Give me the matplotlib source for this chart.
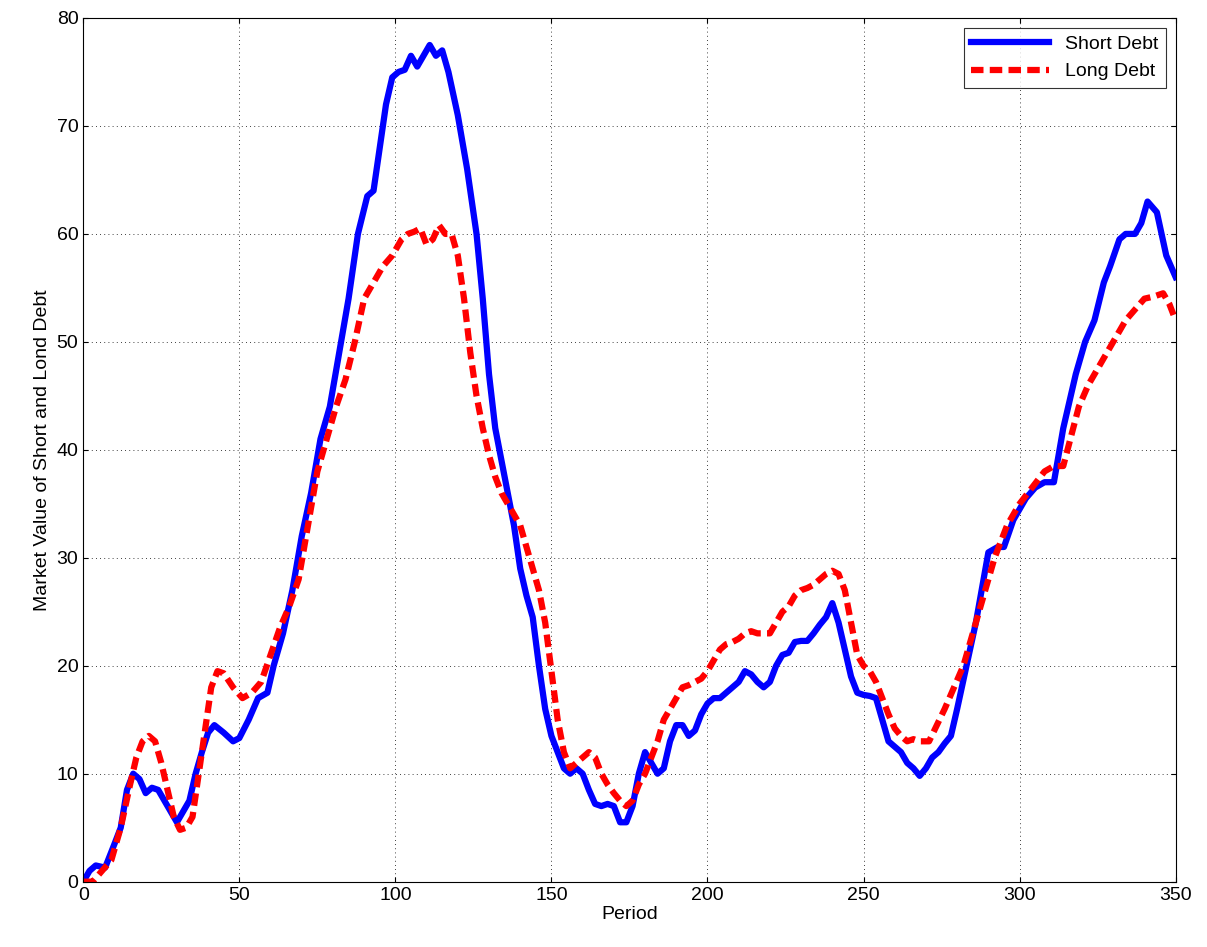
import numpy as np
import matplotlib
matplotlib.use('Agg')
import matplotlib.pyplot as plt

plt.rcParams['font.family'] = ['Liberation Sans', 'DejaVu Sans']

short_x = [0, 2, 4, 7, 10, 12, 14, 16, 18, 20, 22, 24, 27, 30, 32, 34, 36, 38, 40, 42, 45, 48, 50, 53, 56, 59, 61, 64, 67, 70, 73, 76, 79, 82, 85, 88, 91, 93, 95, 97, 99, 101, 103, 105, 107, 109, 111, 113, 115, 117, 120, 123, 126, 128, 130, 132, 134, 136, 138, 140, 142, 144, 146, 148, 150, 152, 154, 156, 158, 160, 162, 164, 166, 168, 170, 172, 174, 176, 178, 180, 182, 184, 186, 188, 190, 192, 194, 196, 198, 200, 202, 204, 206, 208, 210, 212, 214, 216, 218, 220, 222, 224, 226, 228, 230, 232, 234, 236, 238, 240, 242, 244, 246, 248, 250, 252, 254, 256, 258, 260, 262, 264, 266, 268, 270, 272, 274, 276, 278, 280, 283, 286, 290, 293, 295, 298, 302, 305, 308, 311, 314, 318, 321, 324, 327, 329, 332, 334, 337, 339, 341, 344, 347, 350]
short_y = [0, 1, 1.5, 1.3, 3.5, 5, 8.5, 10, 9.5, 8.2, 8.7, 8.5, 7, 5.5, 6.5, 7.5, 10, 12, 13.8, 14.5, 13.8, 13, 13.3, 15, 17, 17.5, 20, 23, 27, 32, 36, 41, 44, 49, 54, 60, 63.5, 64, 68, 72, 74.5, 75, 75.2, 76.5, 75.5, 76.5, 77.5, 76.5, 77, 75, 71, 66, 60, 54, 47, 42, 39, 36, 33, 29, 26.5, 24.5, 20, 16, 13.5, 12, 10.5, 10, 10.5, 10, 8.5, 7.2, 7, 7.2, 7, 5.5, 5.5, 7, 10, 12, 11, 10, 10.5, 13, 14.5, 14.5, 13.5, 14, 15.5, 16.5, 17, 17, 17.5, 18, 18.5, 19.5, 19.2, 18.5, 18, 18.5, 20, 21, 21.2, 22.2, 22.3, 22.3, 23, 23.8, 24.5, 25.8, 24, 21.5, 19, 17.5, 17.3, 17.2, 17, 15, 13, 12.5, 12, 11, 10.5, 9.8, 10.5, 11.5, 12, 12.8, 13.5, 16, 20, 24, 30.5, 31, 31, 33.5, 35.5, 36.5, 37, 37, 42, 47, 50, 52, 55.5, 57, 59.5, 60, 60, 61, 63, 62, 58, 56]

long_x = [0, 3, 6, 9, 12, 15, 17, 19, 21, 23, 25, 27, 29, 31, 33, 35, 37, 39, 41, 43, 45, 48, 51, 54, 57, 60, 63, 66, 69, 72, 75, 78, 81, 84, 87, 90, 93, 96, 99, 102, 104, 106, 108, 110, 112, 114, 116, 118, 120, 122, 124, 126, 128, 130, 132, 134, 136, 138, 140, 142, 144, 146, 148, 150, 152, 154, 156, 158, 160, 162, 164, 166, 168, 170, 172, 174, 176, 178, 180, 182, 184, 186, 188, 190, 192, 194, 196, 198, 200, 202, 204, 206, 208, 210, 212, 214, 216, 218, 220, 222, 224, 226, 228,
          230, 232, 234, 236, 238, 240, 242, 244, 246, 248, 250, 252, 254,
          256, 258, 260, 262, 264, 266, 268, 271, 276, 282, 287, 292, 296, 300, 304, 308, 311, 314, 319, 322, 326, 330, 334, 337, 340, 343, 346, 348, 350]
long_y = [0, 0, 1, 2, 5, 9, 11.5, 13, 13.5, 13, 11, 8.5, 6, 4.8, 5, 6, 10, 14, 18, 19.5, 19.3, 18, 17, 17.5, 18.5, 21, 23.5, 25.5, 28, 33, 38, 41, 44, 46.5, 50, 54, 55.5, 57, 58, 59.5, 60, 60.2, 60.5, 59, 59.5, 60.8, 60, 60, 58, 54, 49, 45, 42, 39.5, 37.5, 36, 35, 34, 33, 31, 29, 27, 24, 19.5, 15, 12, 10.5, 11, 11.5, 12, 11.5, 10, 9, 8.2, 7.5, 7, 7.5, 9, 10, 11.5, 13, 15, 16, 17, 18, 18.2, 18.5, 18.8, 19.5, 20.5, 21.5, 22, 22.2, 22.5, 23, 23.2, 23, 23, 23, 24, 25, 25.5, 26.5,
          27, 27.2, 27.5, 28, 28.5, 28.8, 28.5, 27, 24, 21, 20, 19.5, 18.5,
          17, 15.5, 14.2, 13.5, 13, 13.2, 13, 13, 16, 20, 25, 30, 33, 35, 36.5, 38, 38.5, 38.5, 44, 46, 48, 50, 52, 53, 54, 54.2, 54.5, 53.5, 52]

fig, ax = plt.subplots(figsize=(12.07, 9.47), dpi=100)
ax.plot(short_x, short_y, color='blue', linewidth=4.5, label='Short Debt')
ax.plot(long_x, long_y, color='red', linewidth=4.5, linestyle=(0, (2, 1)), label='Long Debt')
ax.set_xlim(0, 350)
ax.set_ylim(0, 80)
ax.set_xticks(np.arange(0, 351, 50))
ax.set_yticks(np.arange(0, 81, 10))
ax.grid(True, color='black', linestyle=(0, (1, 4)), linewidth=0.6)
ax.tick_params(labelsize=14, direction='in', top=True, right=True)
ax.set_xlabel('Period', fontsize=14, labelpad=2)
ax.set_ylabel('Market Value of Short and Lond Debt', fontsize=14)
leg = ax.legend(loc='upper right', fontsize=14, fancybox=False, edgecolor='black', handlelength=4)
leg.get_frame().set_linewidth(0.8)
plt.subplots_adjust(left=0.069, right=0.974, top=0.981, bottom=0.069)
plt.savefig('out.png', dpi=100)
